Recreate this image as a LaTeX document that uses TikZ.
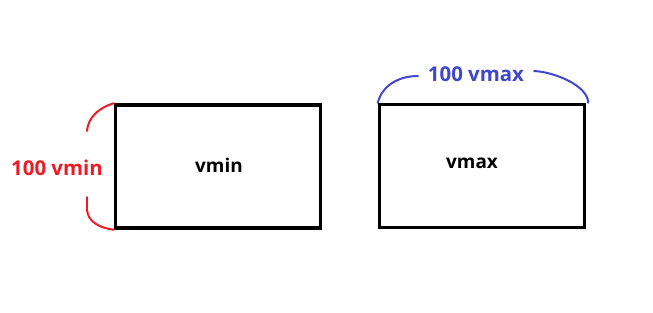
\documentclass[tikz,border=0pt]{standalone}
\usepackage{fontspec}
\setmainfont{Open Sans}
\definecolor{pred}{HTML}{ED1C24}
\definecolor{pblue}{HTML}{3F48CC}
\tikzset{
  box/.style={draw=black, line width=3.5pt, minimum width=205bp, minimum height=123bp, inner sep=0pt},
  boxtxt/.style={font=\fontsize{19}{22}\selectfont\bfseries},
  lbl/.style={font=\fontsize{20.5}{24}\selectfont\bfseries, inner sep=1pt},
  redbr/.style={draw=pred, line width=2pt, line cap=round},
  bluebr/.style={draw=pblue, line width=2pt, line cap=round},
}
\begin{document}
\begin{tikzpicture}[x=1bp,y=-1bp]
\useasboundingbox (0,0) rectangle (653,312);
\node[box] (vmin) at (218,166.5) {};
\node[box] (vmax) at (482,166) {};
\node[boxtxt] (tmin) at (219,165) {vmin};
\node[boxtxt] (tmax) at (472,163) {vmax};
\node[lbl, text=pred] (lmin) at (57,168) {100 vmin};
\node[lbl, text=pblue] (lmax) at (476,74) {100 vmax};
\coordinate (r1) at (87,131);
\coordinate (r2) at (87,197);
\coordinate (b1) at (418,76);
\coordinate (b2) at (534,71);
\draw[redbr] (vmin.north west) .. controls (98,108) and (88,118) .. (r1);
\draw[redbr] (r2) -- (87,210) .. controls (88,222) and (100,228) .. (vmin.south west);
\draw[bluebr] (vmax.north west) .. controls (382,86) and (398,76) .. (b1);
\draw[bluebr] (b2) .. controls (555,72) and (588,86) .. ([xshift=2bp]vmax.north east);
\end{tikzpicture}
\end{document}
